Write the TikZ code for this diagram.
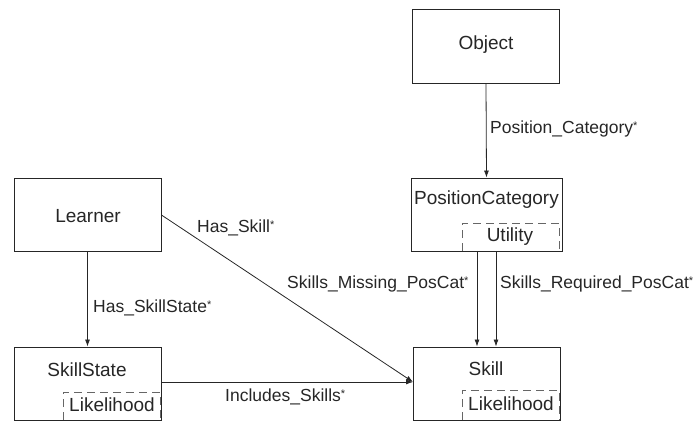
\documentclass[tikz,border=0pt]{standalone}
\usepackage{fontspec}
\setmainfont{Liberation Sans}
\usetikzlibrary{arrows.meta}
\begin{document}
\begin{tikzpicture}[x=1pt,y=-1pt,
  box/.style={draw=black!85,line width=0.9pt,inner sep=0pt},
  attr/.style={draw=black!60,line width=0.9pt,dash pattern=on 8pt off 5pt},
  boxtext/.style={font=\fontsize{19}{21}\selectfont,text=black!85,inner sep=0pt},
  lbl/.style={font=\fontsize{17.5}{19}\selectfont,text=black!85,inner sep=0pt,anchor=west},
  link/.style={draw=black!85,line width=0.8pt,-{Latex[length=7pt,width=5pt]}}]
\useasboundingbox (0,0) rectangle (697,423);
\newcommand{\mult}{\raisebox{0.4ex}{\fontsize{11}{11}\selectfont*}}

% classes
\node[box,minimum width=147pt,minimum height=74pt] (obj) at (486,46) {};
\node[box,minimum width=151pt,minimum height=73pt] (pc) at (486.5,214.5) {};
\node[box,minimum width=147pt,minimum height=73pt] (lrn) at (87.5,214.5) {};
\node[box,minimum width=147pt,minimum height=73pt] (ss) at (87.5,383.5) {};
\node[box,minimum width=147pt,minimum height=73pt] (sk) at (486.5,383.5) {};

% attribute compartments
\draw[attr] (462,251) -- (462,223) -- (559,223) -- (559,251);
\draw[attr] (63,420) -- (63,392) -- (160,392) -- (160,420);
\draw[attr] (462,420) -- (462,390) -- (559,390) -- (559,420);

% class names and attributes
\node[boxtext] (tobj) at (486,45) {Object};
\node[boxtext] (tpc) at (486.5,200) {PositionCategory};
\node[boxtext] (tutil) at (510,237) {Utility};
\node[boxtext] (tlrn) at (88,216) {Learner};
\node[boxtext] (tss) at (87,370) {SkillState};
\node[boxtext] (tlik1) at (112,405) {Likelihood};
\node[boxtext] (tsk) at (486,369) {Skill};
\node[boxtext] (tlik2) at (511,404) {Likelihood};

% associations
\coordinate (hit) at (413,382);
\draw[link] (obj.south) -- (pc.north);
\draw[link] (lrn.south) -- (ss.north);
\draw[link] (lrn.east |- 0,215) -- (hit);
\draw[link] (ss.east |- 0,382) -- (hit);
\draw[link] (pc.south -| 477,0) -- (sk.north -| 477,0);
\draw[link] (pc.south -| 496,0) -- (sk.north -| 496,0);

% association labels
\node[lbl] (l1) at (490,129) {Position\_Category\mult};
\node[lbl] (l2) at (197,228) {Has\_Skill\mult};
\node[lbl] (l3) at (287,284) {Skills\_Missing\_PosCat\mult};
\node[lbl] (l4) at (500,284) {Skills\_Required\_PosCat\mult};
\node[lbl] (l5) at (93,308) {Has\_SkillState\mult};
\node[lbl] (l6) at (225,397) {Includes\_Skills\mult};
\end{tikzpicture}
\end{document}
